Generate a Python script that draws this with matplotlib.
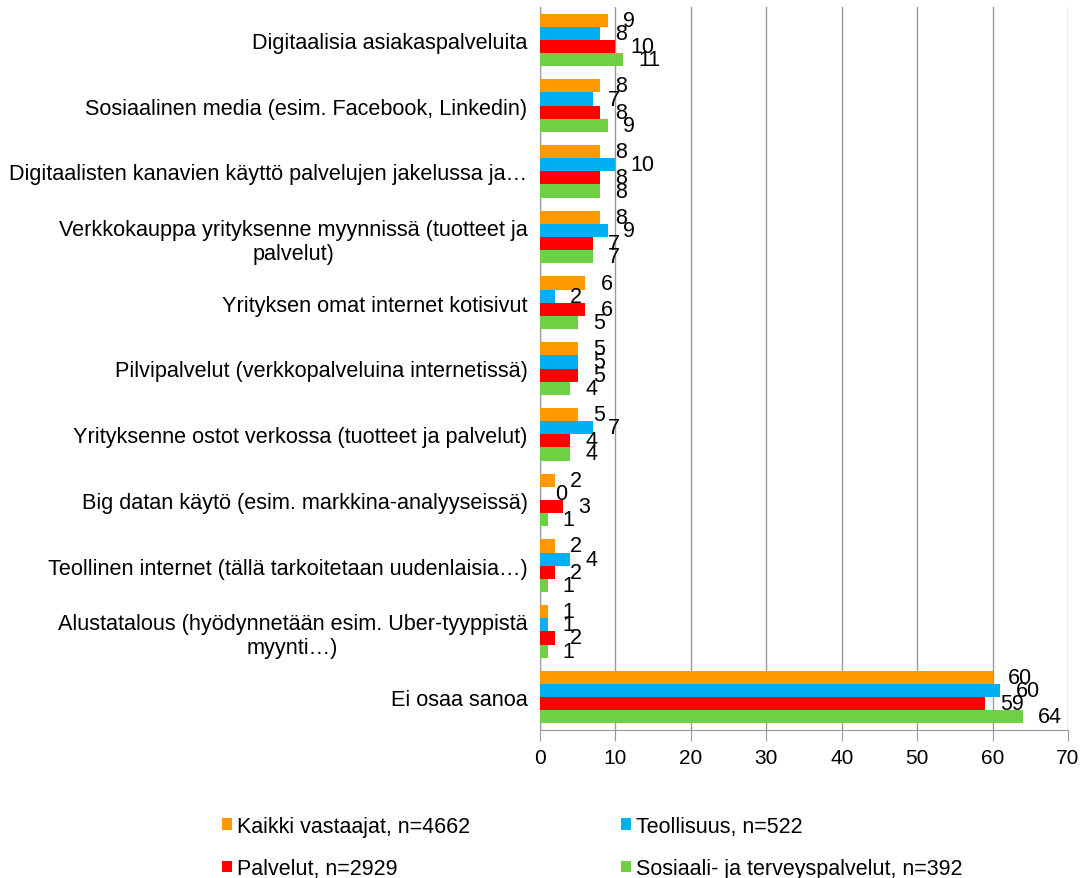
import matplotlib.pyplot as plt
import numpy as np

plt.rcParams['font.family'] = ['Liberation Sans', 'DejaVu Sans']

categories = [
    'Digitaalisia asiakaspalveluita',
    'Sosiaalinen media (esim. Facebook, Linkedin)',
    'Digitaalisten kanavien käyttö palvelujen jakelussa ja…',
    'Verkkokauppa yrityksenne myynnissä (tuotteet ja\npalvelut)',
    'Yrityksen omat internet kotisivut',
    'Pilvipalvelut (verkkopalveluina internetissä)',
    'Yrityksenne ostot verkossa (tuotteet ja palvelut)',
    'Big datan käytö (esim. markkina-analyyseissä)',
    'Teollinen internet (tällä tarkoitetaan uudenlaisia…)',
    'Alustatalous (hyödynnetään esim. Uber-tyyppistä\nmyynti…)',
    'Ei osaa sanoa',
]

kaikki = [9, 8, 8, 8, 6, 5, 5, 2, 2, 1, 60]
teollisuus = [8, 7, 10, 9, 2, 5, 7, 0, 4, 1, 61]
teollisuus_labels = [8, 7, 10, 9, 2, 5, 7, 0, 4, 1, 60]
palvelut = [10, 8, 8, 7, 6, 5, 4, 3, 2, 2, 59]
sote = [11, 9, 8, 7, 5, 4, 4, 1, 1, 1, 64]

series = [
    ('Kaikki vastaajat, n=4662', kaikki, kaikki, '#FF9900'),
    ('Teollisuus, n=522', teollisuus, teollisuus_labels, '#00B0F0'),
    ('Palvelut, n=2929', palvelut, palvelut, '#FF0000'),
    ('Sosiaali- ja terveyspalvelut, n=392', sote, sote, '#6DD143'),
]

fig = plt.figure(figsize=(10.84, 8.79), dpi=100)
ax = fig.add_axes([540 / 1084, 1 - 731 / 879, 528 / 1084, 723 / 879])

ind = np.arange(len(categories))
h = 0.2
for i, (name, vals, labs, col) in enumerate(series):
    pos = ind - 0.3 + i * h
    ax.barh(pos, vals, height=h, color=col, label=name, zorder=3)
    for y, v, lab in zip(pos, vals, labs):
        ax.annotate(str(lab), (v, y), xytext=(11, 0), textcoords='offset points',
                    ha='left', va='center', fontsize=15.5, zorder=4)

ax.set_xlim(0, 70)
ax.set_ylim(len(categories) - 0.5, -0.5)
ax.set_xticks(range(0, 71, 10))
ax.set_yticks(ind)
ax.set_yticklabels(categories, fontsize=15.6, multialignment='center')
ax.tick_params(axis='y', length=0, pad=9)
ax.tick_params(axis='x', length=8, color='#999999', labelsize=15, pad=5)
ax.grid(axis='x', color='#999999', linewidth=1, zorder=0)
for s in ['top', 'right']:
    ax.spines[s].set_visible(False)
for s in ['left', 'bottom']:
    ax.spines[s].set_color('#999999')

handles, labels = ax.get_legend_handles_labels()
order = [0, 2, 1, 3]
fig.legend([handles[k] for k in order], [labels[k] for k in order], ncol=2, loc='upper left',
           bbox_to_anchor=(222 / 1084, 1 - 817 / 879), borderpad=0, borderaxespad=0,
           frameon=False, fontsize=15.5, handlelength=0.47, handleheight=0.47,
           handletextpad=0.23, columnspacing=7.0, labelspacing=0.98)

plt.savefig('out.png', dpi=100)
